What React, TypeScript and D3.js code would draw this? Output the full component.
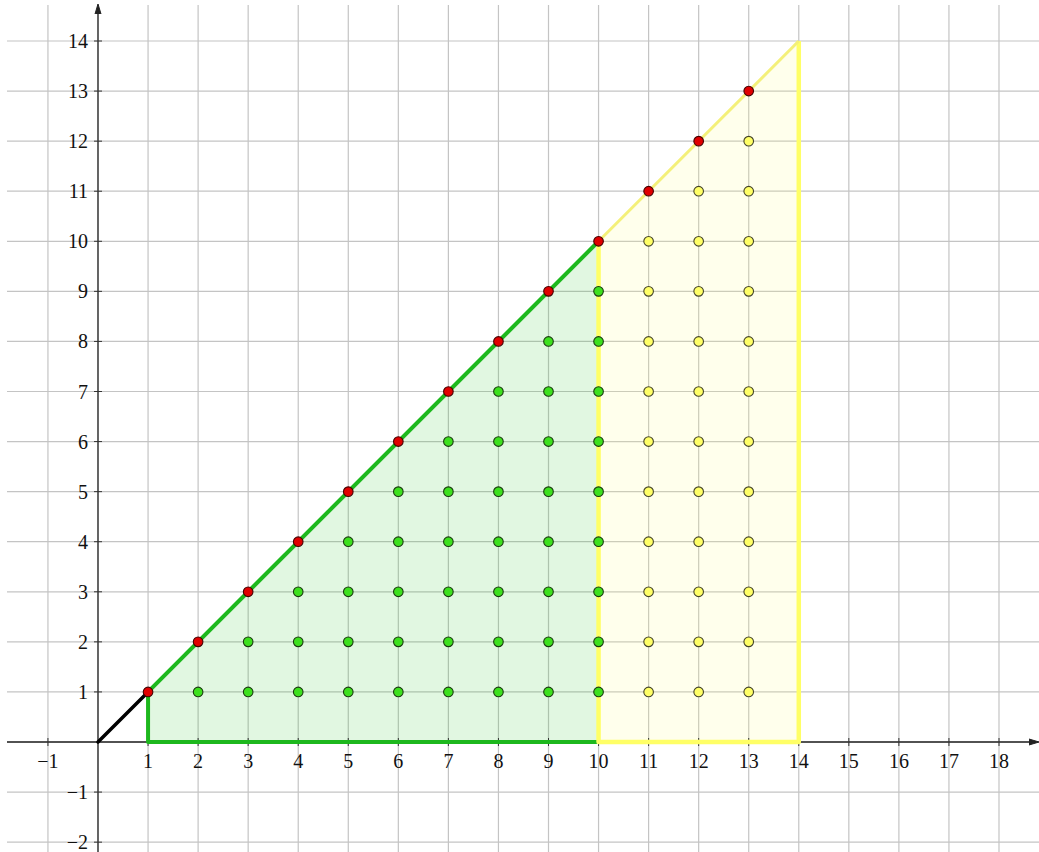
import React from "react";
import * as d3 from "d3";

const W = 1039;
const H = 852;

const xTicks = [-1, 1, 2, 3, 4, 5, 6, 7, 8, 9, 10, 11, 12, 13, 14, 15, 16, 17, 18];
const yTicks = [-2, -1, 1, 2, 3, 4, 5, 6, 7, 8, 9, 10, 11, 12, 13, 14];
const xGrid = d3.range(-1, 19);
const yGrid = d3.range(-2, 15);

const greenRegion: [number, number][] = [[1, 0], [1, 1], [10, 10], [10, 0]];
const yellowRegion: [number, number][] = [[10, 0], [10, 10], [14, 14], [14, 0]];
const blackSegment: [number, number][] = [[0, 0], [1, 1]];

const redPoints: [number, number][] = [1, 2, 3, 4, 5, 6, 7, 8, 9, 10, 11, 12, 13].map((k) => [k, k]);
const greenColumns = [2, 3, 4, 5, 6, 7, 8, 9, 10];
const yellowColumns = [11, 12, 13];

const greenPoints: [number, number][] = greenColumns.flatMap((x) => d3.range(1, x).map((y) => [x, y] as [number, number]));
const yellowPoints: [number, number][] = yellowColumns.flatMap((x) => d3.range(1, x).map((y) => [x, y] as [number, number]));

const x = d3.scaleLinear().domain([0, 18]).range([98, 999]);
const y = d3.scaleLinear().domain([0, 14]).range([742, 41]);

const fmt = (v: number) => (v < 0 ? "\u2212" + Math.abs(v) : String(v));

export default function App() {
  const line = d3.line<[number, number]>().x((d) => x(d[0])).y((d) => y(d[1]));
  const poly = (pts: [number, number][]) => line(pts) + "Z";
  const labelStyle: React.CSSProperties = {
    fontFamily: '"Liberation Serif", "DejaVu Serif", serif',
    fontSize: "20px",
    fill: "#111",
  };
  const gridTop = 5;
  const gridLeft = 7;
  return (
    <svg width={W} height={H} style={{ position: "absolute", left: 0, top: 0, background: "#fff" }}>
      <g stroke="#c4c4c4" strokeWidth={1.2}>
        {xGrid.map((v) => (
          <line key={"gx" + v} x1={x(v)} x2={x(v)} y1={gridTop} y2={H} />
        ))}
        {yGrid.map((v) => (
          <line key={"gy" + v} x1={gridLeft} x2={W} y1={y(v)} y2={y(v)} />
        ))}
      </g>
      <path d={poly(greenRegion)} fill="rgba(20,190,20,0.13)" stroke="none" />
      <path d={poly(yellowRegion)} fill="rgba(255,255,120,0.14)" stroke="none" />
      {/* axes */}
      <line x1={gridLeft} x2={W - 4} y1={y(0)} y2={y(0)} stroke="#222" strokeWidth={1.4} />
      <line x1={x(0)} x2={x(0)} y1={H} y2={8} stroke="#333" strokeWidth={1.4} />
      <path d={`M${x(0) - 3},${14} L${x(0)},${4} L${x(0) + 3},${14}`} fill="#222" stroke="#222" strokeWidth={1} />
      <path d={`M${W - 10},${y(0) - 3} L${W},${y(0)} L${W - 10},${y(0) + 3}`} fill="#222" stroke="#222" strokeWidth={1} />
      {xTicks.map((v) => (
        <line key={"tx" + v} x1={x(v)} x2={x(v)} y1={y(0) - 4} y2={y(0) + 4} stroke="#333" strokeWidth={1} />
      ))}
      {yTicks.map((v) => (
        <line key={"ty" + v} x1={x(0) - 4} x2={x(0) + 4} y1={y(v)} y2={y(v)} stroke="#333" strokeWidth={1} />
      ))}
      {/* region outlines */}
      <path d={line([[1, 1], [1, 0], [10, 0]])} fill="none" stroke="#1db81d" strokeWidth={4} strokeLinejoin="round" />
      <path d={line([[1, 1], [10, 10]])} fill="none" stroke="#1db81d" strokeWidth={4} />
      <path d={line([[10, 10], [10, 0], [14, 0], [14, 14]])} fill="none" stroke="#ffff66" strokeWidth={4.5} strokeLinejoin="round" />
      <path d={line([[10, 10], [14, 14]])} fill="none" stroke="#f4f07a" strokeWidth={3} />
      <path d={line(blackSegment)} fill="none" stroke="#000" strokeWidth={3.5} strokeLinecap="round" />
      {/* points */}
      {greenPoints.map((p, i) => (
        <circle key={"g" + i} cx={x(p[0])} cy={y(p[1])} r={4.8} fill="#3de01e" stroke="#1a3a10" strokeWidth={1.1} />
      ))}
      {yellowPoints.map((p, i) => (
        <circle key={"yp" + i} cx={x(p[0])} cy={y(p[1])} r={4.8} fill="#ffff66" stroke="#44442a" strokeWidth={1.1} />
      ))}
      {redPoints.map((p, i) => (
        <circle key={"r" + i} cx={x(p[0])} cy={y(p[1])} r={4.8} fill="#e00000" stroke="#400" strokeWidth={1.1} />
      ))}
      {/* labels */}
      {xTicks.map((v) => (
        <text key={"lx" + v} x={x(v)} y={y(0) + 26} textAnchor="middle" style={labelStyle}>
          {fmt(v)}
        </text>
      ))}
      {yTicks.map((v) => (
        <text key={"ly" + v} x={x(0) - 10} y={y(v) + 7} textAnchor="end" style={labelStyle}>
          {fmt(v)}
        </text>
      ))}
    </svg>
  );
}
